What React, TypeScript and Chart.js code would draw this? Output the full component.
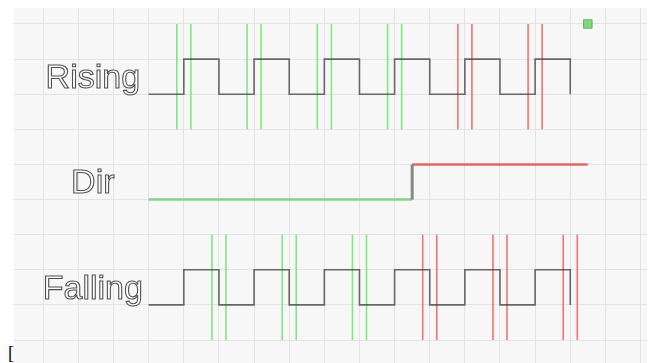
import React, { useEffect, useRef } from 'react';
import { Chart, registerables } from 'chart.js';

Chart.register(...registerables);

// ---- data ----
const edgeTimes = [4, 5, 6, 7, 8, 9, 10, 11, 12, 13, 14, 15, 16];
const risingLevels = [0, 1, 0, 1, 0, 1, 0, 1, 0, 1, 0, 1, 0];
const fallingLevels = [0, 1, 0, 1, 0, 1, 0, 1, 0, 1, 0, 1, 0];
const dirTimes = [4, 11.5, 11.5, 16.5];
const dirLevels = [0, 0, 1, 1];
const dirSwitchTime = 11.5;
const risingMarks = [5, 7, 9, 11, 13, 15];
const fallingMarks = [6, 8, 10, 12, 14, 16];
const markSpread = 0.2;
const rowNames = ['Rising', 'Dir', 'Falling'];
const rowBase = [7, 4, 1];
const cursorX = [16.5];
const cursorY = [9];
const xGrid = [0, 1, 2, 3, 4, 5, 6, 7, 8, 9, 10, 11, 12, 13, 14, 15, 16, 17, 18];
const yGrid = [0, 1, 2, 3, 4, 5, 6, 7, 8, 9];

const WAVE = 'rgba(70,70,70,0.8)';
const GREEN_MARK = 'rgba(90,225,90,0.75)';
const RED_MARK = 'rgba(245,70,70,0.75)';

const labelPlugin = {
  id: 'rowLabels',
  afterDatasetsDraw(chart: any) {
    const { ctx, scales } = chart;
    ctx.save();
    ctx.font = '34px "Liberation Sans", Arial, sans-serif';
    ctx.textAlign = 'center';
    ctx.textBaseline = 'alphabetic';
    rowNames.forEach((name, i) => {
      const x = scales.x.getPixelForValue(2.41);
      const y = scales.y.getPixelForValue(rowBase[i] + 1 - 0.826);
      ctx.fillStyle = '#ffffff';
      ctx.fillText(name, x, y);
      ctx.lineWidth = 1.1;
      ctx.strokeStyle = 'rgba(60,60,60,0.9)';
      ctx.strokeText(name, x, y);
    });
    ctx.restore();
  },
};

function markDatasets(times: number[], base: number) {
  return times.flatMap((t) =>
    [t - markSpread, t + markSpread].map((mx) => ({
      type: 'line',
      data: [
        { x: mx, y: base - 1 },
        { x: mx, y: base + 2 },
      ],
      borderColor: t < dirSwitchTime ? GREEN_MARK : RED_MARK,
      borderWidth: 1.6,
      pointRadius: 0,
    }))
  );
}

export default function App() {
  const ref = useRef<HTMLCanvasElement>(null);
  useEffect(() => {
    if (!ref.current) return;
    const datasets: any[] = [
      {
        data: edgeTimes.map((t, i) => ({ x: t, y: rowBase[0] + risingLevels[i] })),
        borderColor: WAVE,
        borderWidth: 1.6,
        stepped: 'before',
        pointRadius: 0,
      },
      {
        data: edgeTimes.map((t, i) => ({ x: t, y: rowBase[2] + fallingLevels[i] })),
        borderColor: WAVE,
        borderWidth: 1.6,
        stepped: 'before',
        pointRadius: 0,
      },
      {
        data: dirTimes.map((t, i) => ({ x: t, y: rowBase[1] + dirLevels[i] })),
        borderWidth: 2.5,
        pointRadius: 0,
        segment: {
          borderColor: (c: any) =>
            c.p0.parsed.y !== c.p1.parsed.y
              ? '#888888'
              : c.p0.parsed.y > rowBase[1]
              ? 'rgba(220,90,90,0.9)'
              : 'rgba(130,205,130,0.95)',
          borderWidth: (c: any) => (c.p0.parsed.y !== c.p1.parsed.y ? 3 : 2.5),
        },
      },
      ...markDatasets(risingMarks, rowBase[0]),
      ...markDatasets(fallingMarks, rowBase[2]),
      {
        data: cursorX.map((x, i) => ({ x, y: cursorY[i] })),
        showLine: false,
        pointStyle: 'rect',
        pointRadius: 6,
        backgroundColor: '#80d880',
        borderColor: '#5fb55f',
        borderWidth: 1,
      },
    ];
    const chart = new Chart(ref.current, {
      type: 'line',
      data: { datasets },
      plugins: [labelPlugin],
      options: {
        animation: false,
        responsive: false,
        events: [],
        layout: { padding: 0, autoPadding: false },
        plugins: { legend: { display: false }, tooltip: { enabled: false } },
        elements: { line: { tension: 0 } },
        scales: {
          x: {
            type: 'linear',
            min: 0.166,
            max: 18.27,
            afterBuildTicks: (s: any) => {
              s.ticks = xGrid.map((v) => ({ value: v }));
            },
            ticks: { display: false },
            grid: { color: '#e3e3e3', lineWidth: 1, drawTicks: false },
            border: { display: false },
          },
          y: {
            type: 'linear',
            min: -0.655,
            max: 9.484,
            afterBuildTicks: (s: any) => {
              s.ticks = yGrid.map((v) => ({ value: v }));
            },
            ticks: { display: false },
            grid: { color: '#e3e3e3', lineWidth: 1, drawTicks: false },
            border: { display: false },
          },
        },
      } as any,
    } as any);
    return () => chart.destroy();
  }, []);
  return (
    <div style={{ position: 'relative', width: 639, height: 355 }}>
      <canvas
        ref={ref}
        width={636}
        height={356}
        style={{ position: 'absolute', left: 6, top: -1, width: 636, height: 356, background: '#f7f7f7' }}
      />
      <div style={{ position: 'absolute', left: 0, top: 334, fontSize: 18, lineHeight: '22px' }}>[</div>
    </div>
  );
}
